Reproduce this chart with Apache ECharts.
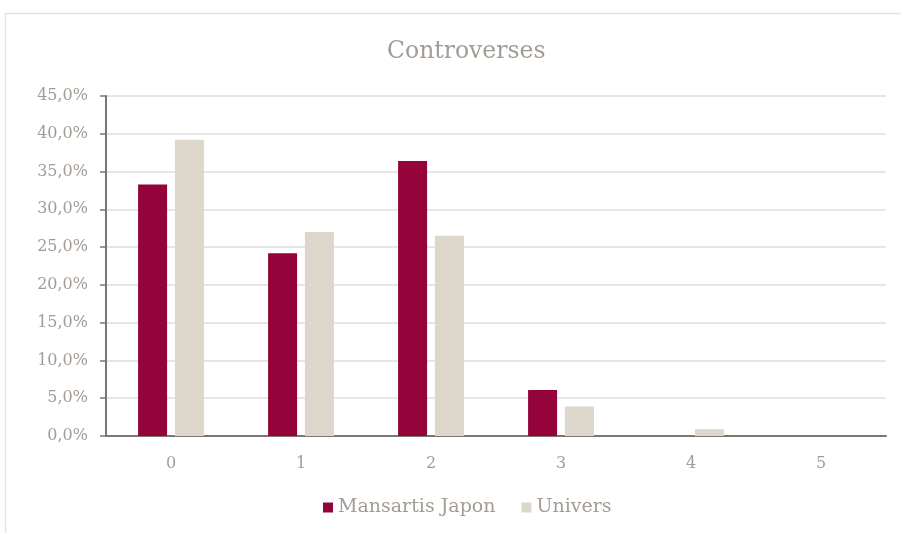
<!DOCTYPE html>
<html><head><meta charset="utf-8">
<script src="https://cdn.jsdelivr.net/npm/echarts@6/dist/echarts.min.js"></script>
<style>html,body{margin:0;padding:0;background:#fff}#c{width:901px;height:533px}</style>
</head><body><div id="c"></div>
<script>
const categories = ['0','1','2','3','4','5'];
const mansartis = [33.3, 24.2, 36.4, 6.1, 0, 0];
const univers = [39.2, 27.0, 26.5, 3.9, 0.9, 0];
const seriesNames = ['Mansartis Japon', 'Univers'];

const txt = '#a39c95';
const font = 'DejaVu Serif';
const chart = echarts.init(document.getElementById('c'));
chart.setOption({
  animation: false,
  backgroundColor: '#fff',
  graphic: [{type:'rect', shape:{x:5.5,y:13.5,width:1000,height:1000}, style:{fill:'none', stroke:'#e3e3e3', lineWidth:1.5}, silent:true}],
  title: {text:'Controverses', left:382, top:35, textStyle:{fontFamily:font, fontWeight:'normal', fontSize:23.5, color:txt}},
  legend: {bottom:11, left:318, itemWidth:10, itemHeight:10, itemGap:26, icon:'rect',
    textStyle:{fontFamily:font, fontSize:19, color:txt}, data:seriesNames},
  grid: {left:106, right:15, top:96, bottom:97, containLabel:false},
  xAxis: {type:'category', data:categories,
    axisLine:{lineStyle:{color:'#7f7670', width:2}}, axisTick:{show:false},
    axisLabel:{fontFamily:font, fontSize:16, color:txt, margin:20}},
  yAxis: {type:'value', min:0, max:45, interval:5,
    axisLine:{show:true, lineStyle:{color:'#7f7670', width:2}},
    axisTick:{show:true, length:6, lineStyle:{color:'#7f7670', width:1.5}},
    splitLine:{lineStyle:{color:'#e6e6e6', width:2}},
    axisLabel:{fontFamily:font, fontSize:16, color:txt, margin:18,
      formatter: v => v.toFixed(1).replace('.', ',') + '%'}},
  series: [
    {name:seriesNames[0], type:'bar', data:mansartis, barWidth:29, barGap:'27%', itemStyle:{color:'#940339'}},
    {name:seriesNames[1], type:'bar', data:univers, barWidth:29, itemStyle:{color:'#ddd6cb'}}
  ]
});
</script></body></html>
